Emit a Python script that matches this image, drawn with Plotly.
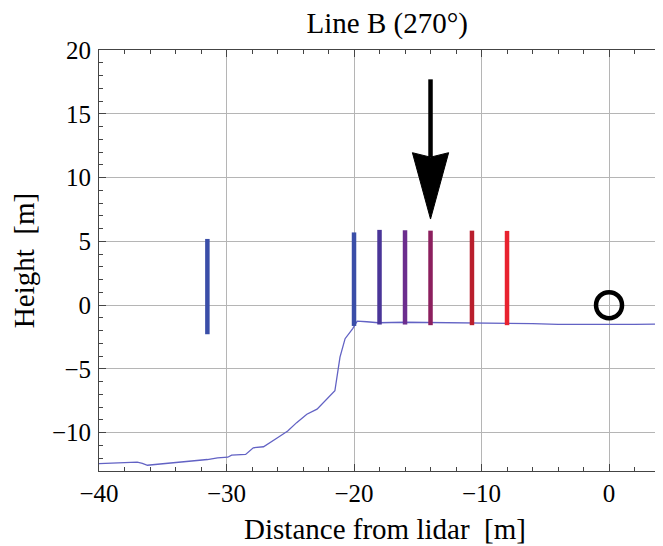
import plotly.graph_objects as go

# terrain profile along line B
dist = [-40, -38.5, -37, -36.6, -36.2, -35.2, -33.9, -32.6, -31.5, -30.7, -29.9, -29.6,
        -28.5, -27.9, -27.1, -26.0, -25.2, -24.5, -23.7, -22.9, -22.1, -21.5, -21.1,
        -20.7, -20.1, -19.75, -19.0, -18.1, -16, -14, -12, -10, -8, -6, -4, -2, 0, 2, 4.9]
height = [-12.42, -12.38, -12.31, -12.4, -12.55, -12.45, -12.34, -12.18, -12.10, -11.97,
          -11.92, -11.76, -11.70, -11.18, -11.10, -10.39, -9.87, -9.21, -8.55, -8.15,
          -7.36, -6.71, -4.08, -2.63, -1.84, -1.25, -1.3, -1.38, -1.34, -1.36, -1.37,
          -1.38, -1.42, -1.45, -1.5, -1.52, -1.52, -1.5, -1.47]

# vertical measurement bars
bar_x = [-31.5, -20.0, -18.0, -16.0, -14.0, -10.75, -8.0]
bar_bottom = [-2.28, -1.63, -1.52, -1.52, -1.57, -1.57, -1.57]
bar_top = [5.19, 5.7, 5.9, 5.87, 5.84, 5.84, 5.82]
bar_colors = ['#3a4ea8', '#3a4ea8', '#4a3598', '#6c2d8e', '#8c1f5e', '#b91f2d', '#e8222f']

# arrow
arrow_x = -14.0
arrow_top = 17.7
arrow_notch = 11.6
arrow_wing = 11.95
arrow_tip = 6.75
arrow_half = 1.42

# lidar position
lidar_x = [0]
lidar_y = [0]

fig = go.Figure()

fig.add_trace(go.Scatter(x=dist, y=height, mode='lines',
                         line=dict(color='#6262c4', width=1.3), showlegend=False))

for x, b, t, c in zip(bar_x, bar_bottom, bar_top, bar_colors):
    fig.add_trace(go.Scatter(x=[x, x], y=[b, t], mode='lines',
                             line=dict(color=c, width=4.5), showlegend=False))

fig.add_trace(go.Scatter(x=[arrow_x, arrow_x], y=[arrow_top, arrow_notch], mode='lines',
                         line=dict(color='black', width=4.5), showlegend=False))
fig.add_trace(go.Scatter(
    x=[arrow_x, arrow_x - arrow_half, arrow_x, arrow_x + arrow_half, arrow_x],
    y=[arrow_tip, arrow_wing, arrow_notch, arrow_wing, arrow_tip],
    mode='lines', fill='toself', fillcolor='black',
    line=dict(color='black', width=1), showlegend=False))

fig.add_trace(go.Scatter(x=lidar_x, y=lidar_y, mode='markers',
                         marker=dict(symbol='circle-open', size=26, color='black',
                                     line=dict(color='black', width=4.5)),
                         showlegend=False))

# page body has an 8px margin, so the figure is shifted a bit up/left
font = 'Liberation Serif, Times New Roman, serif'
fig.update_layout(
    width=663, height=546,
    margin=dict(l=91, r=0, t=42, b=83),
    plot_bgcolor='white', paper_bgcolor='white',
    font=dict(family=font, size=24, color='black'),
    title=dict(text='Line B (270°)', x=0.572, xanchor='center', y=1 - 15 / 546,
               yanchor='middle', yref='container', font=dict(size=29)),
)
fig.update_xaxes(
    range=[-40, 4.86], dtick=10, tick0=0, automargin=False,
    showgrid=True, gridcolor='#b5b5b5', gridwidth=1, zeroline=False,
    showline=True, linecolor='#444', linewidth=1, mirror='ticks',
    ticks='inside', ticklen=7, tickcolor='#444', tickfont=dict(size=25),
    minor=dict(ticks='inside', dtick=2, ticklen=4, tickcolor='#444', showgrid=False),
    title=dict(text='Distance from lidar\u00a0\u00a0[m]', standoff=12),
)
fig.update_yaxes(
    range=[-13, 20], dtick=5, tick0=0, automargin=False,
    showgrid=True, gridcolor='#b5b5b5', gridwidth=1, zeroline=False,
    showline=True, linecolor='#444', linewidth=1, mirror=False,
    ticks='inside', ticklen=7, tickcolor='#444', tickfont=dict(size=25),
    ticklabelstandoff=2,
    minor=dict(ticks='inside', dtick=1, ticklen=4, tickcolor='#444', showgrid=False),
    title=dict(text='Height\u00a0\u00a0[m]', standoff=22),
)

fig.write_html("out.html")
